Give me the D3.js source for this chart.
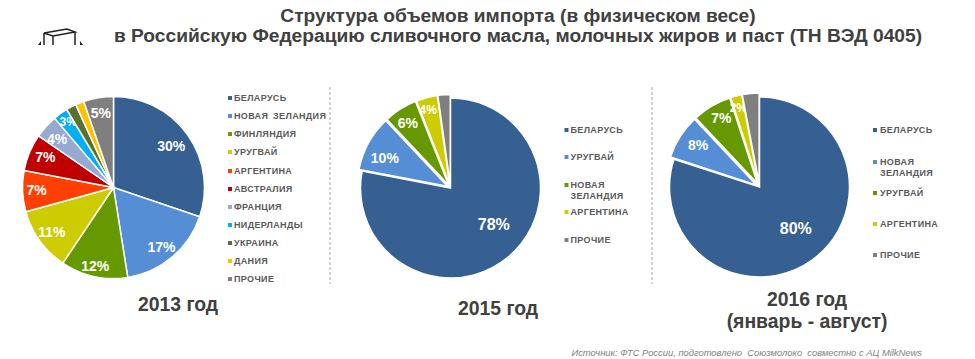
<!DOCTYPE html>
<html>
<head>
<meta charset="utf-8">
<script src="https://cdn.jsdelivr.net/npm/d3@7"></script>
<style>
  html, body { margin: 0; padding: 0; background: #fff; }
  svg { display: block; font-family: "Liberation Sans", Arial, sans-serif; }
</style>
</head>
<body>
<div id="chart-area"></div>
<script>
// categories and shares
var categories2013 = ["БЕЛАРУСЬ", "НОВАЯ ЗЕЛАНДИЯ", "ФИНЛЯНДИЯ", "УРУГВАЙ", "АРГЕНТИНА", "АВСТРАЛИЯ", "ФРАНЦИЯ", "НИДЕРЛАНДЫ", "УКРАИНА", "ДАНИЯ", "ПРОЧИЕ"];
var values2013 = [30.2, 17.3, 11.9, 11.3, 7.3, 6.6, 4.2, 2.6, 1.8, 1.5, 5.3];
var labels2013 = ["30%", "17%", "12%", "11%", "7%", "7%", "4%", "3%", "", "", "5%"];

var categories2015 = ["БЕЛАРУСЬ", "УРУГВАЙ", "НОВАЯ|ЗЕЛАНДИЯ", "АРГЕНТИНА", "ПРОЧИЕ"];
var values2015 = [78, 10, 6, 3.8, 2.2];
var labels2015 = ["78%", "10%", "6%", "4%", ""];

var categories2016 = ["БЕЛАРУСЬ", "НОВАЯ|ЗЕЛАНДИЯ", "УРУГВАЙ", "АРГЕНТИНА", "ПРОЧИЕ"];
var values2016 = [80, 8, 7, 2, 3];
var labels2016 = ["80%", "8%", "7%", "2%", ""];

var colors2013 = ["#376092", "#558ed5", "#669900", "#cccc00", "#ff4000", "#c00000", "#95a9d1", "#00b0f0", "#5a7030", "#ffc000", "#7f7f7f"];
var colorsShort = ["#376092", "#558ed5", "#669900", "#cccc00", "#7f7f7f"];

var width = 975, height = 359;
var textColor = "#595959";

var svg = d3.select("#chart-area")
    .append("svg")
        .attr("width", width)
        .attr("height", height);

// title
var title = svg.append("g")
    .attr("text-anchor", "middle")
    .attr("font-weight", "bold")
    .attr("font-size", 19.2)
    .attr("fill", "#404040");
title.append("text").attr("x", 518).attr("y", 22)
    .text("Структура объемов импорта (в физическом весе)");
title.append("text").attr("x", 518).attr("y", 42)
    .text("в Российскую Федерацию сливочного масла, молочных жиров и паст (ТН ВЭД 0405)");

// the small table icon next to the title
var icon = svg.append("g");
icon.append("path")
    .attr("fill", "none").attr("stroke", "#222").attr("stroke-width", 1.5)
    .attr("d", "M44 33 L67 29 L75 32 L53 36 Z M44 33 L44 45 M53 36 L53 45 M75 32 L75 45");
icon.append("path")
    .attr("fill", "#222")
    .attr("d", "M38 45 L41 41 L41 45 Z M80 41 L83 45 L80 45 Z");

// dashed separators
[330, 652].forEach(function(x) {
    svg.append("line")
        .attr("x1", x).attr("x2", x)
        .attr("y1", 87).attr("y2", 284)
        .attr("stroke", "#a6a6a6")
        .attr("stroke-dasharray", "3,2");
});

function drawPie(opts) {
    var color = d3.scaleOrdinal()
        .domain(opts.categories)
        .range(opts.colors);

    var pie = d3.pie().sort(null)
        .value(function(d) { return d.value; });

    var rows = opts.categories.map(function(c, i) {
        return { name: c, value: opts.values[i], label: opts.labels[i], i: i };
    });

    var arc = d3.arc().innerRadius(0).outerRadius(opts.radius);

    var g = svg.append("g")
        .attr("transform", "translate(" + opts.cx + "," + opts.cy + ")");

    var slices = g.selectAll("g.slice")
        .data(pie(rows))
        .enter()
        .append("g")
            .attr("class", "slice")
            .attr("transform", function(d) {
                if (d.data.i == 0) return null;
                var mid = (d.startAngle + d.endAngle) / 2;
                return "translate(" + (Math.sin(mid) * opts.explode) + "," + (-Math.cos(mid) * opts.explode) + ")";
            });

    slices.append("path")
        .attr("d", arc)
        .attr("fill", function(d) { return color(d.data.name); })
        .attr("stroke", "#fff")
        .attr("stroke-width", 1.5);

    slices.append("text")
        .attr("text-anchor", "middle")
        .attr("font-weight", "bold")
        .attr("fill", "#fff")
        .attr("font-size", function(d) {
            if (d.data.i == 0) return opts.bigLabel;
            return opts.smallLabels.indexOf(d.data.i) >= 0 ? 12 : 14;
        })
        .attr("transform", function(d) {
            var mid = (d.startAngle + d.endAngle) / 2;
            var r = d.data.i == 0 ? opts.bigLabelRadius : opts.labelRadius;
            var nudge = opts.nudges[d.data.i] || [0, 0];
            return "translate(" + (Math.sin(mid) * r + nudge[0]) + "," + (-Math.cos(mid) * r + nudge[1] + 5) + ")";
        })
        .text(function(d) { return d.data.label; });

    // legend
    var legend = svg.append("g");
    var items = legend.selectAll("g")
        .data(rows)
        .enter()
        .append("g")
            .attr("transform", function(d) {
                return "translate(" + opts.legendX + "," + opts.legendY[d.i] + ")";
            });

    items.append("rect")
        .attr("x", 0).attr("y", -2)
        .attr("width", 4).attr("height", 4)
        .attr("fill", function(d) { return color(d.name); });

    items.append("text")
        .attr("fill", textColor)
        .attr("font-size", 9)
        .attr("font-weight", "bold")
        .attr("letter-spacing", 0.35)
        .attr("word-spacing", 2)
        .selectAll("tspan")
        .data(function(d) { return d.name.split("|"); })
        .enter()
        .append("tspan")
            .attr("x", opts.legendGap)
            .attr("y", function(d, i) { return 3 + i * 11; })
            .text(function(d) { return d; });

    // year caption under the pie
    var cap = svg.append("text")
        .attr("text-anchor", "middle")
        .attr("font-weight", "bold")
        .attr("font-size", 19.4)
        .attr("fill", "#404040");
    opts.caption.forEach(function(line, i) {
        cap.append("tspan")
            .attr("x", opts.captionX)
            .attr("y", opts.captionY + i * 22)
            .text(line);
    });
}

drawPie({
    categories: categories2013, values: values2013, labels: labels2013, colors: colors2013,
    cx: 113.5, cy: 187.5, radius: 91, explode: 0,
    labelRadius: 76, bigLabelRadius: 71, bigLabel: 14,
    nudges: { 1: [-1, 1], 2: [-2, 4], 4: [-1, -1], 5: [2, -1], 6: [0, 2], 7: [-1, -5] },
    smallLabels: [7],
    legendX: 228, legendGap: 6,
    legendY: [98, 116, 134, 152, 171, 189, 207, 225, 243, 261, 279],
    caption: ["2013 год"], captionX: 178, captionY: 311
});

drawPie({
    categories: categories2015, values: values2015, labels: labels2015, colors: colorsShort,
    cx: 450.5, cy: 188, radius: 90, explode: 3.5,
    labelRadius: 76, bigLabelRadius: 57, bigLabel: 16,
    nudges: { 0: [7, -7], 1: [4, 8], 2: [0, 2], 3: [-2, -2] },
    smallLabels: [3],
    legendX: 564.5, legendGap: 6,
    legendY: [130, 157, 185, 212, 240],
    caption: ["2015 год"], captionX: 498, captionY: 315
});

drawPie({
    categories: categories2016, values: values2016, labels: labels2016, colors: colorsShort,
    cx: 759.5, cy: 187, radius: 90, explode: 4,
    labelRadius: 77, bigLabelRadius: 55, bigLabel: 16,
    nudges: { 0: [4, -2], 1: [7, 1], 2: [3, 1], 3: [-1, -1.5] },
    smallLabels: [3],
    legendX: 873, legendGap: 7,
    legendY: [130, 162, 193, 224, 255],
    caption: ["2016 год", "(январь - август)"], captionX: 807, captionY: 306
});

// source line
svg.append("text")
    .attr("x", 922).attr("y", 356)
    .attr("text-anchor", "end")
    .attr("font-size", 9.4)
    .attr("font-style", "italic")
    .attr("fill", "#7f7f7f")
    .style("white-space", "pre")
    .text("Источник: ФТС России, подготовлено  Союзмолоко  совместно с АЦ MilkNews");
</script>
</body>
</html>
